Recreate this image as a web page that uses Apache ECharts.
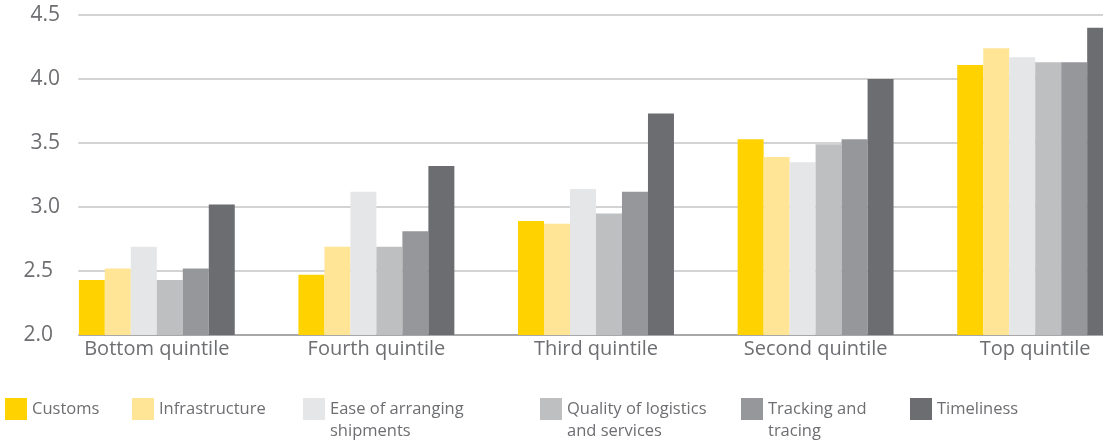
<!DOCTYPE html>
<html>
<head>
<meta charset="utf-8">
<style>
  html, body { margin: 0; padding: 0; background: #fff; overflow: hidden; }
  #chart { width: 1150px; height: 441px; }
</style>
<script src="https://cdn.jsdelivr.net/npm/echarts@6/dist/echarts.min.js"></script>
</head>
<body>
<div id="chart"></div>
<script>
// Quintile groups along the x axis
const categories = ['Bottom quintile', 'Fourth quintile', 'Third quintile', 'Second quintile', 'Top quintile'];

// LPI component scores per quintile
const customs          = [2.43, 2.47, 2.89, 3.53, 4.11];
const infrastructure   = [2.52, 2.69, 2.87, 3.39, 4.24];
const easeOfShipping   = [2.69, 3.12, 3.14, 3.35, 4.17];
const qualityLogistics = [2.43, 2.69, 2.95, 3.49, 4.13];
const trackingTracing  = [2.52, 2.81, 3.12, 3.53, 4.13];
const timeliness       = [3.02, 3.32, 3.73, 4.00, 4.40];

const seriesNames = ['Customs', 'Infrastructure', 'Ease of arranging shipments',
  'Quality of logistics and services', 'Tracking and tracing', 'Timeliness'];
const legendLabels = ['Customs', 'Infrastructure', 'Ease of arranging\nshipments',
  'Quality of logistics\nand services', 'Tracking and\ntracing', 'Timeliness'];
const yTicks = [2.0, 2.5, 3.0, 3.5, 4.0, 4.5];

const values = [customs, infrastructure, easeOfShipping, qualityLogistics, trackingTracing, timeliness];
const colors = ['#FFD200', '#FFE595', '#E5E6E8', '#BEBFC1', '#96979B', '#6C6D71'];

const FONT = 'Open Sans';
const TEXT = '#6d6e71';
const GAP = 0.29;
const legendLeft = [5, 132, 303, 540, 741, 910];

const chart = echarts.init(document.getElementById('chart'));

// One legend per entry; two-line entries get a leading blank line so
// their first line sits level with the swatch.
const legends = seriesNames.map((name, i) => {
  const twoLine = legendLabels[i].indexOf('\n') >= 0;
  return {
    data: [name],
    left: legendLeft[i],
    top: twoLine ? 376 : 398,
    padding: 0,
    icon: 'rect',
    itemWidth: 22,
    itemHeight: 22,
    selectedMode: false,
    formatter: () => (twoLine ? '\n' : '') + legendLabels[i],
    textStyle: { fontFamily: FONT, fontSize: 16.5, color: TEXT, lineHeight: 22 }
  };
});

chart.setOption({
  animation: false,
  grid: { left: 47, right: 5, top: 15, bottom: 106 },
  legend: legends,
  xAxis: {
    type: 'category',
    data: categories,
    z: 0,
    axisTick: { show: false },
    axisLine: { lineStyle: { color: '#9a9a9c', width: 1.5 } },
    axisLabel: { fontFamily: FONT, fontSize: 20, color: TEXT, margin: 4 }
  },
  yAxis: [{
    type: 'value', min: yTicks[0], max: yTicks[yTicks.length - 1], interval: 0.5,
    z: 0,
    axisLine: { show: false }, axisTick: { show: false },
    axisLabel: { show: false },
    splitLine: { lineStyle: { color: '#c4c4c6', width: 1.5 } }
  }, {
    type: 'value', min: yTicks[0], max: yTicks[yTicks.length - 1], interval: 0.5,
    position: 'left', z: 5,
    axisLine: { show: false }, axisTick: { show: false },
    splitLine: { show: false },
    axisLabel: {
      fontFamily: FONT, fontSize: 21, color: TEXT, margin: -13,
      formatter: v => (v <= 2.5 ? '{lo|' : '{hi|') + v.toFixed(1) + '}',
      rich: {
        hi: { fontFamily: FONT, fontSize: 21, color: TEXT },
        lo: { fontFamily: FONT, fontSize: 21, color: TEXT, padding: [0, 7, 0, 0] }
      }
    }
  }],
  series: seriesNames.map((name, i) => ({
    name: name,
    type: 'bar',
    data: values[i],
    barGap: '0%',
    barCategoryGap: (GAP * 100) + '%',
    itemStyle: { color: colors[i] }
  })),
  color: colors
});

// Gridlines and the baseline start at the first bar's left edge
const c0 = chart.convertToPixel({ xAxisIndex: 0 }, 0);
const c1 = chart.convertToPixel({ xAxisIndex: 0 }, 1);
const band = c1 - c0;
const gridLeft = c0 - band / 2;
const groupLeft = c0 - band * (1 - GAP) / 2;
const baseY = chart.convertToPixel({ yAxisIndex: 0 }, yTicks[0]);
chart.setOption({
  graphic: [{
    type: 'rect', z: 3,
    shape: { x: gridLeft - 2, y: 0, width: groupLeft - gridLeft + 1.5, height: baseY + 2 },
    style: { fill: '#fff' }
  }]
});
</script>
</body>
</html>
